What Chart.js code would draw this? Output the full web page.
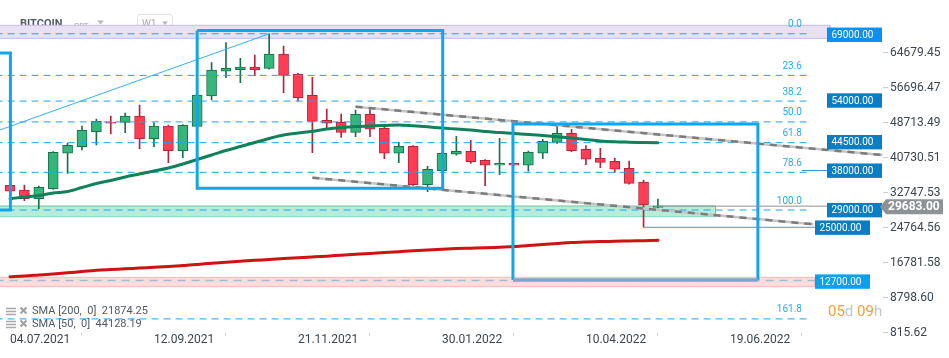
<!DOCTYPE html>
<html><head><meta charset="utf-8">
<script src="https://cdn.jsdelivr.net/npm/chart.js@4.4.1/dist/chart.umd.min.js"></script>
<style>html,body{margin:0;padding:0;background:#fff;overflow:hidden}canvas{display:block}</style>
</head><body>
<canvas id="c" width="949" height="358"></canvas>
<script>
// ---------- DATA ----------
const xTickIndex = [0, 10, 20, 30, 40, 50];
const xTickLabels = ['04.07.2021', '12.09.2021', '21.11.2021', '30.01.2022', '10.04.2022', '19.06.2022'];
const yTicks = [815.62, 8798.60, 16781.58, 24764.56, 32747.53, 40730.51, 48713.49, 56696.47, 64679.45];

const openP  = [34440,33365,31380,33660,41735,43240,46660,48870,48800,50240,45070,47960,42330,47890,54800,60440,60800,61420,61120,64380,59820,54960,49260,48800,46520,50630,47440,41735,43330,34570,37770,41510,42190,40140,39000,39450,39000,41735,44240,46300,42650,40590,39910,38310,35190,29370];
const highP  = [34600,34500,34280,42100,44015,47960,49560,50240,50930,52750,48710,48190,48300,55300,62400,66960,63400,64155,69000,66210,60000,59070,51840,50700,51610,51840,47800,44240,43500,38770,41900,45610,44700,40300,45160,39450,42260,44930,47960,47210,43470,42875,40590,39980,35645,31310];
const lowP   = [33000,30920,29100,33500,37170,42490,43630,46140,46430,42780,43240,39590,40730,47600,53890,58980,57840,59430,60900,55560,53660,41870,47210,45380,45520,45520,40500,39590,34120,32980,37600,41280,39450,34350,36850,39000,37630,40500,44000,42100,39135,38450,37400,34700,24860,29300];
const closeP = [33070,31380,33980,41960,43560,46980,49030,48580,50240,45070,47960,42330,48120,55030,60730,61120,61420,60800,64380,59525,54420,49030,48580,46520,50630,47210,41735,43330,34570,38090,41735,42190,39820,39000,39450,39000,41960,44470,46300,42330,40370,39680,38090,34890,29940,29683];

const sma50  = [31380,31770,32110,32680,33020,33930,34850,35530,36330,37010,37700,38380,39290,40320,41350,42370,43280,44200,45110,45910,46360,46750,47280,47620,47850,47960,48070,48190,48010,47780,47500,47280,47050,46710,46480,46250,46020,45790,45520,45220,44880,44540,44360,44270,44200,44128.19];
const sma200 = [13590,13750,13980,14210,14480,14780,15050,15230,15390,15570,15730,15920,16140,16370,16670,16900,17120,17330,17510,17720,17900,18080,18270,18490,18700,18900,19090,19290,19500,19680,19860,20000,20090,20180,20320,20460,20680,20930,21160,21370,21500,21600,21660,21730,21800,21874.25];

const fibLevels = [69000, 59510, 53640, 48900, 44160, 37400, 28800, 3960];
const fibLabels = ['0.0', '23.6', '38.2', '50.0', '61.8', '78.6', '100.0', '161.8'];

const tagValues = [69000, 54000, 44500, 38000, 29000, 25000, 12700];
const tagTexts  = ['69000.00', '54000.00', '44500.00', '38000.00', '29000.00', '25000.00', '12700.00'];
const currentPrice = 29683;
const currentPriceText = '29683.00';

const bandPurple = [70930, 67960];
const bandGreen  = [29715, 27275];
const bandPink   = [13450, 11310];
const level12700 = 12700;

const leftBoxX  = [13.0, 30.05], leftBoxY  = [69740, 33750];
const rightBoxX = [34.93, 51.94], rightBoxY = [48420, 12840];
const edgeBoxX  = [-3, 0.03],    edgeBoxY  = [64610, 28800];

const channelUpper = [[24, 52360], [60.6, 41330]];
const channelLower = [[21, 36170], [55.8, 25540]];
const riseLine     = [[-0.7, 47050], [18, 69000]];
const level25000   = 24860;
const level38000   = 37800;

const legendRows = ['SMA [200,  0]  21874.25', 'SMA [50,  0]  44128.19'];
const countdown = [['05', 'o'], ['d ', 'g'], ['09', 'o'], ['h', 'g']];

// ---------- STYLE ----------
const GREEN = '#35b67b', GREEN_B = '#19704a', RED = '#ff3d55', RED_B = '#b5243a';
const FIB = '#1ba6ee', BOX = '#10a6ef';

const idx = openP.map((_, i) => i);
const up = idx.map(i => closeP[i] >= openP[i]);

function line(points, color, width, dash, order, extra) {
  return Object.assign({
    type: 'line', data: points.map(p => ({x: p[0], y: p[1]})),
    borderColor: color, borderWidth: width, borderDash: dash || [],
    pointRadius: 0, pointHoverRadius: 0, fill: false, tension: 0, order: order,
    borderJoinStyle: 'miter', borderCapStyle: 'butt', spanGaps: true
  }, extra || {});
}

const ds = [];
function band(x0, x1, b, fillC, edgeTop, edgeBot, order) {
  ds.push(line([[x0, b[0]], [x1, b[0]]], 'rgba(0,0,0,0)', 1, null, order, {fill: {value: b[1]}, backgroundColor: fillC}));
  ds.push(line([[x0, b[0]], [x1, b[0]], [x1, b[1]]], edgeTop, 1, null, order - 1));
  ds.push(line([[x0, b[1]], [x1, b[1]]], edgeBot, 1, null, order - 1));
}
band(-1, 56.94, bandPurple, '#e7e1f3', '#c8bce2', '#c8bce2', 100);
band(-1, 49.0, bandGreen, '#b6ecda', '#6fc6a3', '#82dcbd', 100);
band(-1, 55.9, bandPink, '#fddcdc', '#f7b9b9', '#f7b9b9', 100);

// candles
ds.push({type: 'bar', data: idx.map(i => ({x: i, y: [lowP[i], highP[i]]})),
  backgroundColor: up.map(u => u ? GREEN_B : RED_B), borderWidth: 0, barThickness: 1, grouped: false, order: 61});
ds.push({type: 'bar', data: idx.map(i => ({x: i, y: [openP[i], closeP[i]]})),
  backgroundColor: up.map(u => u ? GREEN : RED), borderColor: up.map(u => u ? GREEN_B : RED_B),
  borderWidth: 1, borderSkipped: false, barThickness: 10, grouped: false, order: 60});

// fib dashed levels
fibLevels.forEach(l => ds.push(line([[-1, l], [55.4, l]], FIB, 1, [7, 5], 45)));
ds.push(line([[-1, level12700], [55.9, level12700]], '#a9b7d0', 1.5, [8, 6], 45));

// SMA lines
ds.push(line(idx.map(i => [i, sma200[i]]), '#cf1212', 3, null, 40, {cubicInterpolationMode: 'monotone', borderCapStyle: 'round'}));
ds.push(line(idx.map(i => [i, sma50[i]]), '#12805a', 3, null, 40, {cubicInterpolationMode: 'monotone', borderCapStyle: 'round'}));

// channel lines
[channelUpper, channelLower].forEach(c => {
  ds.push(line(c, '#c4c4c4', 2.5, null, 36));
  ds.push(line(c, '#7c7c7c', 2.5, [7, 6], 35));
});
ds.push(line(riseLine, '#35b1f4', 1, null, 35));

// boxes
function box(X, Y, color, order) {
  ds.push(line([[X[0], Y[0]], [X[1], Y[0]], [X[1], Y[1]], [X[0], Y[1]], [X[0], Y[0]]], color, 3, null, order));
}
box(leftBoxX, leftBoxY, BOX, 30);
box(edgeBoxX, edgeBoxY, BOX, 30);
ds.push(line([[rightBoxX[0], rightBoxY[1]], [rightBoxX[0], rightBoxY[0]], [rightBoxX[1], rightBoxY[0]], [rightBoxX[1], rightBoxY[1]]], BOX, 3, null, 30));
ds.push(line([[rightBoxX[0], rightBoxY[1]], [rightBoxX[1], rightBoxY[1]]], '#7ba6cf', 3.5, null, 29));

// connectors
ds.push(line([[44, level25000], [56, level25000]], '#4f95cc', 1, null, 25));
ds.push(line([[55.0, level38000], [57, level38000]], '#3d8fcf', 1, null, 25));
ds.push(line([[45, currentPrice], [60.5, currentPrice]], '#8b9196', 1, null, 26));

// ---------- OVERLAY PLUGIN ----------
function tri(ctx, x, y, w, h, c) { ctx.fillStyle = c; ctx.beginPath(); ctx.moveTo(x, y); ctx.lineTo(x + w, y); ctx.lineTo(x + w / 2, y + h); ctx.closePath(); ctx.fill(); }

const overlay = {
  id: 'overlay',
  beforeDatasetsDraw(chart) {
    const ctx = chart.ctx;
    ctx.save();
    ctx.textBaseline = 'alphabetic'; ctx.textAlign = 'left';
    ctx.font = 'bold 11px Roboto'; ctx.fillStyle = '#525c66'; ctx.fillText('BITCOIN', 20, 27);
    ctx.font = '8px Roboto'; ctx.fillStyle = '#9aa2aa'; ctx.fillText('CRT', 74, 27.5);
    tri(ctx, 97, 20.5, 7, 4, '#b4b9be');
    ctx.strokeStyle = '#e0e0e0'; ctx.lineWidth = 1;
    ctx.beginPath(); ctx.roundRect(137.5, 14.5, 35, 17, 3); ctx.stroke();
    ctx.font = '10px Roboto'; ctx.fillStyle = '#a3a9af'; ctx.fillText('W1', 142, 26.5);
    tri(ctx, 162, 21.5, 6, 3.5, '#b4b9be');
    const rowsY = [311, 324];
    legendRows.forEach((t, k) => {
      const y = rowsY[k];
      ctx.strokeStyle = '#a8a8a8'; ctx.lineWidth = 1.3;
      ctx.beginPath();
      for (let j = -3; j <= 3; j += 3) { ctx.moveTo(6, y + j + 0.5); ctx.lineTo(16, y + j + 0.5); }
      ctx.stroke();
      ctx.strokeStyle = '#a0a0a0'; ctx.lineWidth = 2;
      ctx.beginPath(); ctx.moveTo(20.5, y - 3.5); ctx.lineTo(26.5, y + 2.5); ctx.moveTo(26.5, y - 3.5); ctx.lineTo(20.5, y + 2.5); ctx.stroke();
      ctx.font = '11px Roboto'; ctx.fillStyle = '#4f5862'; ctx.textBaseline = 'middle';
      ctx.fillText(t, 32, y);
      ctx.textBaseline = 'alphabetic';
    });
    ctx.restore();
  },
  afterDatasetsDraw(chart) {
    const ctx = chart.ctx, ys = chart.scales.y, xs = chart.scales.x;
    ctx.save();
    ctx.font = '10px Roboto'; ctx.fillStyle = '#2aa9f0'; ctx.textAlign = 'right'; ctx.textBaseline = 'middle';
    const fx = xs.getPixelForValue(55.0);
    fibLevels.forEach((l, k) => ctx.fillText(fibLabels[k], fx, ys.getPixelForValue(l) - 9));
    const tagLeft = [827, 827, 827, 827, 827, 815, 815];
    const tagColor = ['#0a90f2', '#0a7ec4', '#0a7ec4', '#0a7ec4', '#0a7ec4', '#0a7ec4', '#08a1ee'];
    ctx.textAlign = 'left';
    tagValues.forEach((v, k) => {
      const y = ys.getPixelForValue(v) + 1;
      ctx.fillStyle = tagColor[k]; ctx.fillRect(tagLeft[k], y - 7.2, 55, 14.4);
      ctx.fillStyle = '#ffffff'; ctx.font = '10px Roboto'; ctx.fillText(tagTexts[k], tagLeft[k] + 4.5, y + 0.5);
    });
    const cy = ys.getPixelForValue(currentPrice) + 0.7;
    ctx.fillStyle = '#8d9297';
    ctx.beginPath(); ctx.moveTo(880, cy); ctx.lineTo(886, cy - 7.5); ctx.lineTo(943, cy - 7.5); ctx.lineTo(943, cy + 7.5); ctx.lineTo(886, cy + 7.5); ctx.closePath(); ctx.fill();
    ctx.fillStyle = '#ffffff'; ctx.font = 'bold 12px Roboto'; ctx.fillText(currentPriceText, 888, cy + 0.5);
    ctx.font = '15px Roboto'; let x = 828;
    countdown.forEach(([t, c]) => { ctx.fillStyle = c === 'o' ? '#f6a034' : '#c3c6ca'; ctx.fillText(t, x, 312.5); x += ctx.measureText(t).width; });
    ctx.restore();
  }
};

new Chart(document.getElementById('c'), {
  type: 'line',
  data: {datasets: ds},
  options: {
    responsive: false, animation: false, devicePixelRatio: 1,
    layout: {padding: 0},
    plugins: {legend: {display: false}, tooltip: {enabled: false}},
    events: [],
    scales: {
      x: {
        type: 'linear', min: -0.694, max: 60.63, offset: false,
        afterBuildTicks: s => { s.ticks = xTickIndex.map(v => ({value: v})); },
        afterFit: s => { s.height = 25.3; s.paddingLeft = 0; s.paddingRight = 0; },
        ticks: {autoSkip: false, maxRotation: 0, align: 'start', padding: -3, color: '#3c4650', font: {family: 'Roboto', size: 12},
          callback: (v, i) => xTickLabels[i]},
        grid: {drawOnChartArea: false, drawTicks: true, tickLength: 3, color: '#d0d0d0'},
        border: {display: false}
      },
      y: {
        type: 'linear', position: 'right', min: 815.62, max: 76698.6, beginAtZero: false,
        afterBuildTicks: s => { s.ticks = yTicks.map(v => ({value: v})); },
        afterFit: s => { s.width = 66; s.paddingTop = 0; s.paddingBottom = 0; },
        ticks: {padding: 2, color: '#3c4650', font: {family: 'Roboto', size: 12}, callback: v => v.toFixed(2)},
        grid: {drawOnChartArea: false, drawTicks: true, tickLength: 5, color: '#cfcfcf'},
        border: {display: false}
      }
    }
  },
  plugins: [overlay]
});
</script>
</body></html>
